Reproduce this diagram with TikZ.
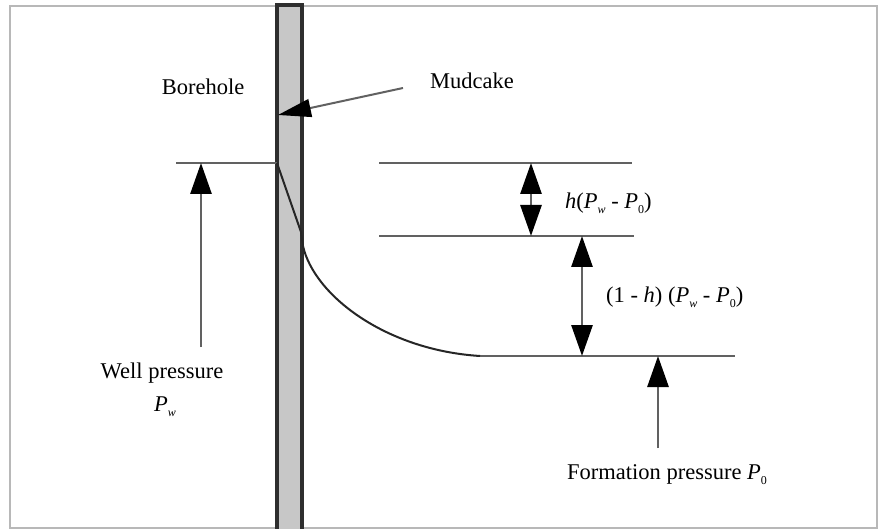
\documentclass[tikz,border=0pt]{standalone}
\usepackage{fontspec}
\setmainfont{Liberation Serif}
\usetikzlibrary{arrows.meta}
\newcommand{\lowsub}[1]{\raisebox{-0.5ex}{\fontsize{12}{12}\selectfont #1}}
\begin{document}
\begin{tikzpicture}[x=1pt,y=-1pt,
  lbl/.style={inner sep=0pt,font=\fontsize{22.5}{26}\selectfont},
  level/.style={draw=black!62,line width=2.8pt},
  arr/.style={draw=black!62,line width=2.8pt,-{Triangle[length=31pt,width=21pt,fill=black,color=black]}},
  darr/.style={draw=black!62,line width=2.8pt,{Triangle[length=31pt,width=21pt,fill=black,color=black]}-{Triangle[length=31pt,width=21pt,fill=black,color=black]}},
  wall/.style={draw=black!82,line width=3.4pt},
  curve/.style={draw=black!85,line width=2pt}]
\useasboundingbox (0,0) rectangle (878,529);
\fill[white] (0,0) rectangle (878,529);
% frame
\draw[black!28,line width=2pt] (10,6) rectangle (877,528);
% borehole wall
\fill[black!22] (277,5) rectangle (302,529);
\draw[wall] (277,5) -- (277,529);
\draw[wall] (302,5) -- (302,529);
\draw[wall] (275.3,5) -- (303.7,5);
% coordinates
\coordinate (wl1) at (176,163);
\coordinate (wl2) at (277,163);
\coordinate (r1a) at (379,163);
\coordinate (r1b) at (632,163);
\coordinate (r2a) at (379,236);
\coordinate (r2b) at (634,236);
\coordinate (r3a) at (480,356);
\coordinate (r3b) at (735,356);
\coordinate (kink) at (301,232);
\coordinate (kink2) at (303,246);
% level lines
\draw[level] (wl1) -- (wl2);
\draw[level] (r1a) -- (r1b);
\draw[level] (r2a) -- (r2b);
\draw[level] (r3a) -- (r3b);
% pressure profile
\draw[curve,line join=round] (wl2) -- (kink) -- (kink2) .. controls (314,295) and (385,350) .. (r3a);
% labels
\node[lbl] (borehole) at (203,87) {Borehole};
\node[lbl] (mudcake) at (472,81) {Mudcake};
\node[lbl] (well) at (162,373) {Well pressure};
\node[lbl] (pw) at (165,407) {\textit{P}\lowsub{\textit{w}}};
\node[lbl,anchor=west] (hlab) at (565,203) {\textit{h}(\textit{P}\lowsub{\textit{w}} - \textit{P}\lowsub{0})};
\node[lbl,anchor=west] (ohlab) at (606,297) {(1 - \textit{h}) (\textit{P}\lowsub{\textit{w}} - \textit{P}\lowsub{0})};
\node[lbl,anchor=west] (form) at (567,475) {Formation pressure \textit{P}\lowsub{0}};
% arrows
\coordinate (mstart) at (403,88);
\coordinate (mtip) at (278,115);
\draw[draw=black!62,line width=2pt,-{Triangle[length=33pt,width=18pt,fill=black,color=black]}] (mstart) -- (mtip);
\coordinate (wstart) at (201,347);
\coordinate (wtip) at (201,163);
\draw[arr] (wstart) -- (wtip);
\coordinate (d1a) at (531,163);
\coordinate (d1b) at (531,236);
\draw[darr] (d1a) -- (d1b);
\coordinate (d2a) at (582,236);
\coordinate (d2b) at (582,356);
\draw[darr] (d2a) -- (d2b);
\coordinate (fstart) at (658,448);
\coordinate (ftip) at (658,356);
\draw[arr] (fstart) -- (ftip);
\end{tikzpicture}
\end{document}
